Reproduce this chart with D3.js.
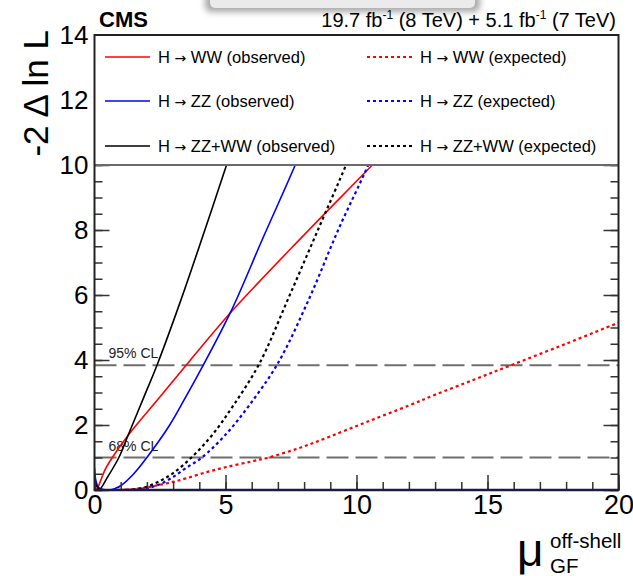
<!DOCTYPE html>
<html>
<head>
<meta charset="utf-8">
<script src="https://cdn.jsdelivr.net/npm/d3@7"></script>
<style>
  html, body { margin: 0; padding: 0; background: #fff; }
  svg { display: block; font-family: "Liberation Sans", Arial, Helvetica, sans-serif; }
</style>
</head>
<body>
<svg id="chart" width="633" height="576"></svg>
<script>
// ---- data ----
const wwObs = [[0,0.06],[0.09,0.03],[0.2,0.22],[0.4,0.62],[0.68,1.0],[1.3,1.7],[2.43,2.8],[3.64,3.98],[5.24,5.5],[8,7.85],[10.6,10.0],[11,10.35]];
const zzObs = [[0,0.68],[0.05,0.3],[0.15,0.08],[0.3,0.02],[0.57,0],[0.8,0.05],[1.0,0.13],[1.5,0.5],[2.0,1.0],[2.87,2.0],[3.42,2.77],[4.15,3.84],[5.24,5.55],[6.4,7.7],[7.66,10.0],[8,10.7]];
const combObs = [[0,0.35],[0.08,0.12],[0.19,0.02],[0.5,0.4],[0.93,1.0],[1.31,1.74],[1.88,2.85],[2.4,3.87],[3.3,5.85],[4.17,7.9],[5.04,10.0],[5.3,10.65]];
const wwExp = [[0,0],[0.8,0],[1.5,0.03],[2,0.08],[2.5,0.16],[3,0.25],[3.5,0.36],[4.28,0.55],[5,0.7],[6,0.88],[6.64,1.0],[7.85,1.3],[9,1.65],[10.41,2.1],[12,2.6],[13,2.93],[14.5,3.4],[15.9,3.84],[18,4.5],[20,5.15]];
const zzExp = [[1.5,0],[2,0.05],[2.5,0.18],[3,0.4],[3.5,0.68],[4.1,1.0],[5.0,1.7],[5.9,2.6],[7.0,3.9],[8.2,5.9],[9.3,8.0],[10.45,10.0],[10.8,10.7]];
const combExp = [[1.0,0],[1.5,0.02],[2,0.1],[2.5,0.28],[3,0.52],[3.7,1.0],[4.5,1.7],[5.3,2.6],[6.3,3.9],[7.4,5.9],[8.5,7.95],[9.6,10.0],[9.9,10.6]];
const clLevels = [3.84, 1.0];
const clLabels = ["95% CL", "68% CL"];
const xTicks = [0, 5, 10, 15, 20];
const yTicks = [0, 2, 4, 6, 8, 10, 12, 14];
const seriesNames = ["H \u2192 WW (observed)", "H \u2192 WW (expected)", "H \u2192 ZZ (observed)", "H \u2192 ZZ (expected)", "H \u2192 ZZ+WW (observed)", "H \u2192 ZZ+WW (expected)"];
const seriesColors = ["#ff0000", "#ff0000", "#0000ff", "#0000ff", "#000000", "#000000"];

// ---- layout ----
const svg = d3.select("#chart");
const L = 94.5, R = 618.5, T = 35, B = 490;
const x = d3.scaleLinear().domain([0, 20]).range([L, R]);
const y = d3.scaleLinear().domain([0, 14]).range([B, T]);

// screenshot shadow artifact at top
const defs = svg.append("defs");
const f = defs.append("filter").attr("id", "blur").attr("x", "-20%").attr("y", "-100%").attr("width", "140%").attr("height", "300%");
f.append("feGaussianBlur").attr("stdDeviation", 3);
defs.append("clipPath").attr("id", "plotclip").append("rect")
  .attr("x", L).attr("y", T).attr("width", R - L).attr("height", B - T);
svg.append("rect").attr("x", 205).attr("y", -10).attr("width", 275).attr("height", 22)
  .attr("rx", 6).attr("fill", "#a8a8a8").attr("filter", "url(#blur)");
svg.append("rect").attr("x", 210).attr("y", -10).attr("width", 265).attr("height", 18)
  .attr("rx", 5).attr("fill", "#ebebeb");

// CL lines
const g = svg.append("g");
clLevels.forEach((v, i) => {
  g.append("line").attr("x1", x(0)).attr("x2", x(20)).attr("y1", y(v)).attr("y2", y(v))
    .attr("stroke", "#6e6e6e").attr("stroke-width", 2).attr("stroke-dasharray", "22,7");
  g.append("text").attr("x", x(0) + 14).attr("y", y(v) - 7).attr("font-size", 14).attr("fill", "#222")
    .text(clLabels[i]);
});

// curves
const line = d3.line().x(d => x(d[0])).y(d => y(d[1])).curve(d3.curveCatmullRom.alpha(0.5));
const cg = svg.append("g").attr("clip-path", "url(#plotclip)");
const curves = [[wwObs, 0, false], [wwExp, 1, true], [zzObs, 2, false], [zzExp, 3, true], [combObs, 4, false], [combExp, 5, true]];
curves.forEach(([data, i, dotted]) => {
  cg.append("path").datum(data).attr("d", line).attr("fill", "none")
    .attr("stroke", seriesColors[i]).attr("stroke-width", dotted ? 2.2 : 1.6)
    .attr("stroke-dasharray", dotted ? "3,3" : null);
});

// axes (ticks inward)
const fmt = d3.format("d");
const yAx = svg.append("g").attr("transform", `translate(${L},0)`)
  .call(d3.axisLeft(y).tickValues(yTicks).tickFormat(fmt).tickSizeInner(-15).tickSizeOuter(0).tickPadding(6));
svg.append("g").attr("transform", `translate(${L},0)`)
  .call(d3.axisLeft(y).tickValues(d3.range(0, 14.01, 0.5)).tickFormat("").tickSizeInner(-8).tickSizeOuter(0));
svg.append("g").attr("transform", `translate(${R},0)`)
  .call(d3.axisRight(y).tickValues(yTicks).tickFormat("").tickSizeInner(-15).tickSizeOuter(0));
svg.append("g").attr("transform", `translate(${R},0)`)
  .call(d3.axisRight(y).tickValues(d3.range(0, 14.01, 0.5)).tickFormat("").tickSizeInner(-8).tickSizeOuter(0));
const xAx = svg.append("g").attr("transform", `translate(0,${B})`)
  .call(d3.axisBottom(x).tickValues(xTicks).tickFormat(fmt).tickSizeInner(-15).tickSizeOuter(0).tickPadding(5));
svg.append("g").attr("transform", `translate(0,${B})`)
  .call(d3.axisBottom(x).tickValues(d3.range(0, 20.01, 1)).tickFormat("").tickSizeInner(-8).tickSizeOuter(0));
svg.selectAll(".domain").remove();
svg.selectAll(".tick line").attr("stroke", "#333").attr("stroke-width", 1.5);
yAx.selectAll("text").attr("font-size", 26).attr("fill", "#000").attr("font-family", "Liberation Sans, Arial, sans-serif");
xAx.selectAll("text").attr("font-size", 27).attr("fill", "#000").attr("font-family", "Liberation Sans, Arial, sans-serif");

// legend box (covers region above 10)
const legBottom = y(10);
svg.append("rect").attr("x", L).attr("y", T).attr("width", R - L).attr("height", legBottom - T)
  .attr("fill", "#fff").attr("stroke", "none");
svg.append("line").attr("x1", L).attr("x2", R).attr("y1", legBottom).attr("y2", legBottom)
  .attr("stroke", "#6a6a6a").attr("stroke-width", 2);
const rowsY = [57, 101, 146];
const colX = [[105, 150, 158], [367, 412, 420]];
seriesNames.forEach((name, i) => {
  const r = Math.floor(i / 2), c = i % 2, dotted = c === 1;
  svg.append("line").attr("x1", colX[c][0]).attr("x2", colX[c][1]).attr("y1", rowsY[r]).attr("y2", rowsY[r])
    .attr("stroke", seriesColors[i]).attr("stroke-width", dotted ? 1.8 : 1.6)
    .attr("stroke-dasharray", dotted ? "3,3" : null);
  const t = svg.append("text").attr("x", colX[c][2]).attr("y", rowsY[r] + 5.5).attr("font-size", 16.5).attr("fill", "#000");
  const parts = name.split("\u2192");
  t.append("tspan").text(parts[0]);
  t.append("tspan").attr("font-family", "DejaVu Sans").attr("font-size", 14).text("\u2192");
  t.append("tspan").text(parts[1]);
});

// frame
svg.append("rect").attr("x", L).attr("y", T).attr("width", R - L).attr("height", B - T)
  .attr("fill", "none").attr("stroke", "#222").attr("stroke-width", 2);
svg.append("line").attr("x1", L).attr("x2", R).attr("y1", B).attr("y2", B).attr("stroke", "#1c1c40").attr("stroke-width", 2.5);

// header
svg.append("text").attr("x", 99).attr("y", 27).attr("font-size", 22).attr("font-weight", "bold").text("CMS");
const lumi = svg.append("text").attr("x", 616).attr("y", 27).attr("font-size", 20).attr("text-anchor", "end");
lumi.append("tspan").text("19.7 fb");
lumi.append("tspan").attr("font-size", 12).attr("dy", -8).text("-1");
lumi.append("tspan").attr("dy", 8).text(" (8 TeV) + 5.1 fb");
lumi.append("tspan").attr("font-size", 12).attr("dy", -8).text("-1");
lumi.append("tspan").attr("dy", 8).text(" (7 TeV)");

// axis titles
svg.append("text").attr("transform", "translate(48,30) rotate(-90)").attr("text-anchor", "end")
  .attr("font-size", 35).text("-2 \u0394 ln L");
svg.append("text").attr("x", 517).attr("y", 566).attr("font-size", 46).text("\u03bc");
svg.append("text").attr("x", 550).attr("y", 548).attr("font-size", 20.5).text("off-shell");
svg.append("text").attr("x", 550).attr("y", 573).attr("font-size", 20.5).text("GF");
</script>
</body>
</html>
